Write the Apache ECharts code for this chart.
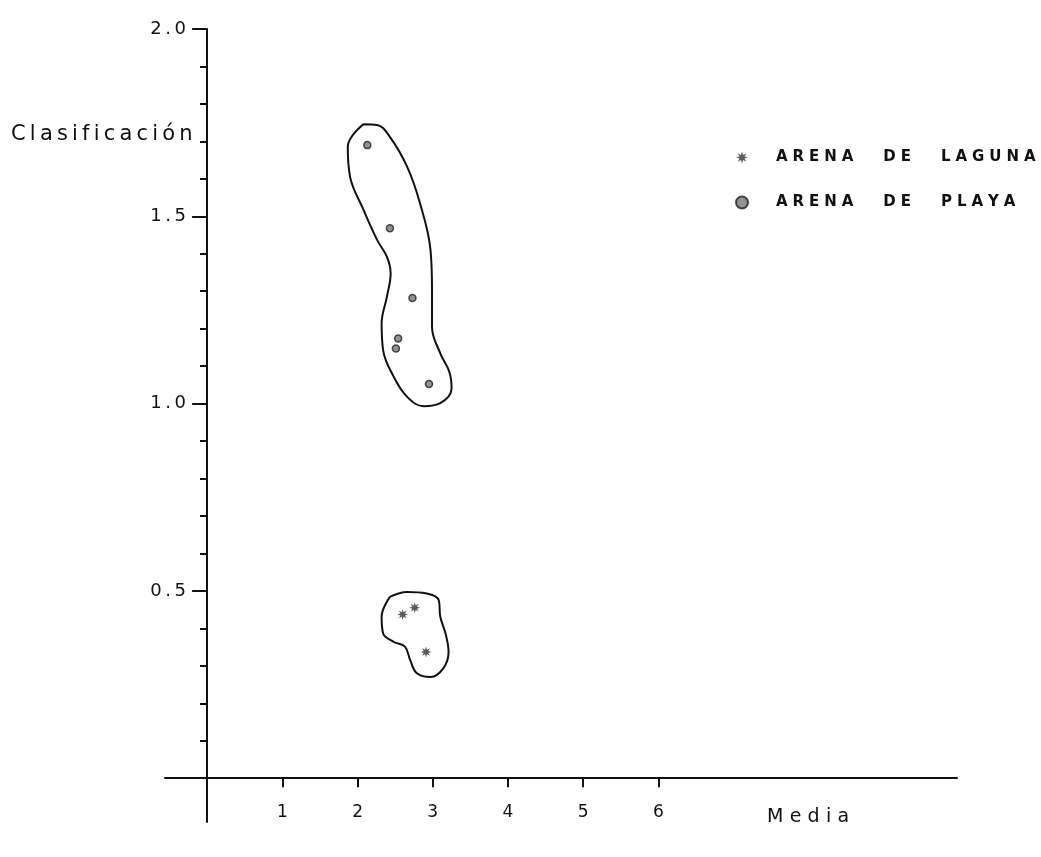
<!DOCTYPE html>
<html>
<head>
<meta charset="utf-8">
<script src="https://cdn.jsdelivr.net/npm/echarts@6/dist/echarts.min.js"></script>
<style>
  html, body { margin: 0; padding: 0; background: #fff; }
  #chart { width: 1041px; height: 857px; }
</style>
</head>
<body>
<div id="chart"></div>
<script>
// Sand samples: mean grain size (Media) vs. sorting (Clasificación)
const lagunaMedia = [2.60, 2.76, 2.91];
const lagunaClasif = [0.437, 0.455, 0.337];

const playaMedia = [2.13, 2.43, 2.73, 2.54, 2.51, 2.95];
const playaClasif = [1.690, 1.468, 1.282, 1.174, 1.147, 1.052];

// Hand-drawn envelopes around each group, in data units (closed loops)
const playaEnvelopeX = [2.08, 1.87, 1.90, 2.08, 2.26, 2.39, 2.44, 2.39, 2.32, 2.34, 2.48, 2.66, 2.88, 3.10, 3.25, 3.22, 3.10, 2.99, 2.99, 2.97, 2.83, 2.66, 2.43, 2.26, 2.08];
const playaEnvelopeY = [1.746, 1.686, 1.606, 1.517, 1.437, 1.392, 1.348, 1.285, 1.214, 1.143, 1.072, 1.018, 0.993, 1.001, 1.040, 1.085, 1.134, 1.205, 1.303, 1.410, 1.535, 1.632, 1.712, 1.744, 1.746];

const lagunaEnvelopeX = [2.43, 2.66, 2.92, 3.08, 3.10, 3.17, 3.21, 3.14, 2.97, 2.79, 2.70, 2.63, 2.48, 2.34, 2.32, 2.43];
const lagunaEnvelopeY = [0.484, 0.497, 0.493, 0.475, 0.431, 0.386, 0.337, 0.293, 0.270, 0.280, 0.315, 0.351, 0.364, 0.386, 0.431, 0.484];

const xTickValues = [1, 2, 3, 4, 5, 6];
const yMajorTicks = [0.5, 1.0, 1.5, 2.0];
const yMinorTicks = [0.1, 0.2, 0.3, 0.4, 0.6, 0.7, 0.8, 0.9, 1.1, 1.2, 1.3, 1.4, 1.6, 1.7, 1.8, 1.9];

const seriesNames = ['ARENA DE LAGUNA', 'ARENA DE PLAYA'];
const yTitle = 'Clasificación';
const xTitle = 'Media';

const zip = (xs, ys) => xs.map((x, i) => [x, ys[i]]);
// widen lettering like stencil-drawn captions
const spaced = (s, gap, wordGap) => s.split(' ').map(w => w.split('').join(gap)).join(wordGap);

const STAR = 'path://M20 10L14.16 11.72L17.07 17.07L11.72 14.16L10 20L8.28 14.16L2.93 17.07L5.84 11.72L0 10L5.84 8.28L2.93 2.93L8.28 5.84L10 0L11.72 5.84L17.07 2.93L14.16 8.28Z';
const FONT = '"DejaVu Sans", "Liberation Sans", sans-serif';

const chart = echarts.init(document.getElementById('chart'));
chart.setOption({
  backgroundColor: '#ffffff',
  animation: false,
  title: [
    {
      text: spaced(yTitle, '\u2009', ' '),
      left: 6, top: 119,
      textStyle: { fontFamily: FONT, fontSize: 21, fontWeight: 'normal', color: '#111' }
    },
    {
      text: spaced(xTitle, '\u2004', ' '),
      left: 762, top: 803,
      textStyle: { fontFamily: FONT, fontSize: 19, fontWeight: 'normal', color: '#111' }
    }
  ],
  legend: {
    data: seriesNames,
    orient: 'vertical',
    left: 735, top: 150,
    padding: 0,
    itemWidth: 12, itemHeight: 12,
    itemGap: 30,
    formatter: name => spaced(name, '\u2004', '\u2003\u2003'),
    textStyle: { fontFamily: FONT, fontSize: 15, fontWeight: 'bold', color: '#111', padding: [0, 0, 0, 23] }
  },
  grid: { left: 165, right: 84, top: 29, bottom: 35, containLabel: false, outerBoundsMode: 'none' },
  xAxis: {
    type: 'value',
    min: -0.56, max: 9.97,
    splitLine: { show: false },
    axisLine: { show: true, onZero: true, lineStyle: { color: '#111', width: 2 } },
    axisTick: { show: true, customValues: xTickValues, length: 9, lineStyle: { color: '#111', width: 2 } },
    axisLabel: { customValues: xTickValues, margin: -18, fontFamily: FONT, fontSize: 17, color: '#111' }
  },
  yAxis: [
    {
      type: 'value',
      position: 'left',
      min: -0.117, max: 2.0,
      splitLine: { show: false },
      axisLine: { show: true, onZero: true, lineStyle: { color: '#111', width: 2 } },
      axisTick: { show: true, customValues: yMajorTicks, length: 15, lineStyle: { color: '#111', width: 2 } },
      axisLabel: {
        customValues: yMajorTicks, margin: -21,
        formatter: v => spaced(v.toFixed(1), '\u2009', ' '),
        fontFamily: FONT, fontSize: 18, color: '#111'
      }
    },
    {
      // minor ticks, shifted onto the x = 0 line
      type: 'value',
      position: 'left',
      offset: -42,
      min: -0.117, max: 2.0,
      splitLine: { show: false },
      axisLine: { show: false, onZero: false },
      axisTick: { show: true, customValues: yMinorTicks, length: 7, lineStyle: { color: '#111', width: 2 } },
      axisLabel: { show: false }
    }
  ],
  series: [
    {
      name: seriesNames[0],
      type: 'scatter',
      data: zip(lagunaMedia, lagunaClasif),
      symbol: STAR,
      symbolSize: 11,
      itemStyle: { color: '#333' },
      z: 5
    },
    {
      name: seriesNames[1],
      type: 'scatter',
      data: zip(playaMedia, playaClasif),
      symbol: 'circle',
      symbolSize: 7,
      itemStyle: { color: '#777', borderColor: '#222', borderWidth: 1.5 },
      z: 5
    },
    {
      type: 'line',
      data: zip(playaEnvelopeX, playaEnvelopeY),
      showSymbol: false,
      smooth: 0.4,
      lineStyle: { color: '#111', width: 2 },
      silent: true
    },
    {
      type: 'line',
      data: zip(lagunaEnvelopeX, lagunaEnvelopeY),
      showSymbol: false,
      smooth: 0.4,
      lineStyle: { color: '#111', width: 2 },
      silent: true
    }
  ]
});
</script>
</body>
</html>
